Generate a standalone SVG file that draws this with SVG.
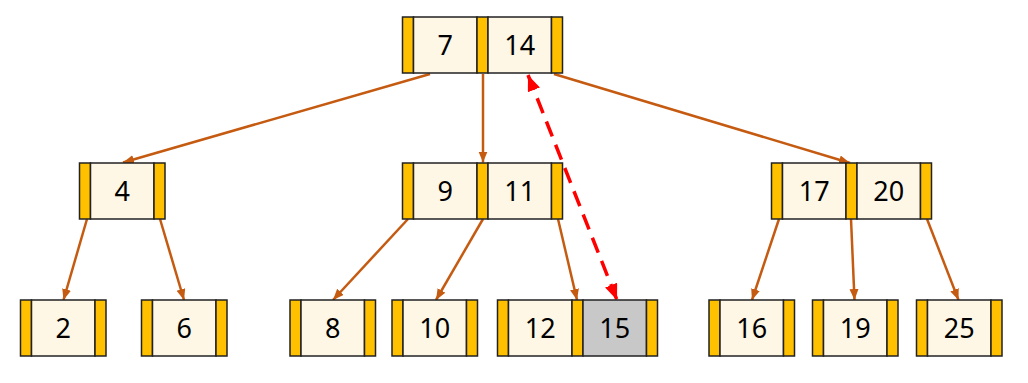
<svg xmlns="http://www.w3.org/2000/svg" width="1028" height="383" viewBox="0 0 1028 383">
<style>
.p{fill:#FFC000;stroke:#222;stroke-width:1.5}
.k{fill:#FFF7E5;stroke:#222;stroke-width:1.5}
.g{fill:#C8C8C8;stroke:#222;stroke-width:1.5}
.t{font-family:"Noto Sans","DejaVu Sans",sans-serif;font-size:27px;fill:#000;text-anchor:middle}
.e{stroke:#C55A11;stroke-width:2.5;fill:none;marker-end:url(#ab)}
.r{stroke:#FF0000;stroke-width:3.5;fill:none;stroke-dasharray:16 9;marker-start:url(#ar);marker-end:url(#ar)}
</style>
<defs>
<marker id="ab" markerUnits="userSpaceOnUse" markerWidth="12" markerHeight="10" refX="11" refY="4.5" orient="auto"><path d="M0,0 L11,4.5 L0,9 z" fill="#C55A11"/></marker>
<marker id="ar" markerUnits="userSpaceOnUse" markerWidth="18" markerHeight="14" refX="16" refY="6.5" orient="auto-start-reverse"><path d="M0,0 L16,6.5 L0,13 z" fill="#FF0000"/></marker>
</defs>
<g id="connectors">
<line class="e" x1="430" y1="74" x2="123" y2="162.5"/>
<line class="e" x1="483" y1="74" x2="483" y2="162.5"/>
<line class="e" x1="554" y1="74" x2="850" y2="163"/>
<line class="e" x1="87" y1="219" x2="63.5" y2="300"/>
<line class="e" x1="160" y1="219" x2="184" y2="300"/>
<line class="e" x1="408" y1="219" x2="333" y2="300"/>
<line class="e" x1="483" y1="219" x2="436" y2="300"/>
<line class="e" x1="558" y1="219" x2="577" y2="300"/>
<line class="e" x1="779" y1="219" x2="752" y2="300"/>
<line class="e" x1="851" y1="219" x2="854.5" y2="300"/>
<line class="e" x1="927" y1="219" x2="958.5" y2="300"/>
<line class="r" x1="528" y1="75" x2="617" y2="300"/>
</g>
<g id="node-root">
<rect class="p" x="402.5" y="17" width="11" height="56"/><rect class="k" x="413.5" y="17" width="63.5" height="56"/><rect class="p" x="477" y="17" width="11" height="56"/><rect class="k" x="488" y="17" width="63.5" height="56"/><rect class="p" x="551.5" y="17" width="11" height="56"/>
<text class="t" x="445.25" y="54.5">7</text><text class="t" x="519.75" y="54.5">14</text>
</g>
<g id="node-4">
<rect class="p" x="79.5" y="163" width="11" height="56"/><rect class="k" x="90.5" y="163" width="63.5" height="56"/><rect class="p" x="154" y="163" width="11" height="56"/>
<text class="t" x="122.25" y="200.5">4</text>
</g>
<g id="node-9-11">
<rect class="p" x="402.5" y="163" width="11" height="56"/><rect class="k" x="413.5" y="163" width="63.5" height="56"/><rect class="p" x="477" y="163" width="11" height="56"/><rect class="k" x="488" y="163" width="63.5" height="56"/><rect class="p" x="551.5" y="163" width="11" height="56"/>
<text class="t" x="445.25" y="200.5">9</text><text class="t" x="519.75" y="200.5">11</text>
</g>
<g id="node-17-20">
<rect class="p" x="771.5" y="163" width="11" height="56"/><rect class="k" x="782.5" y="163" width="63.5" height="56"/><rect class="p" x="846" y="163" width="11" height="56"/><rect class="k" x="857" y="163" width="63.5" height="56"/><rect class="p" x="920.5" y="163" width="11" height="56"/>
<text class="t" x="814.25" y="200.5">17</text><text class="t" x="888.75" y="200.5">20</text>
</g>
<g id="node-2">
<rect class="p" x="20.5" y="300" width="11" height="56"/><rect class="k" x="31.5" y="300" width="63.5" height="56"/><rect class="p" x="95" y="300" width="11" height="56"/>
<text class="t" x="63.25" y="337.5">2</text>
</g>
<g id="node-6">
<rect class="p" x="141.5" y="300" width="11" height="56"/><rect class="k" x="152.5" y="300" width="63.5" height="56"/><rect class="p" x="216" y="300" width="11" height="56"/>
<text class="t" x="184.25" y="337.5">6</text>
</g>
<g id="node-8">
<rect class="p" x="290" y="300" width="11" height="56"/><rect class="k" x="301" y="300" width="63.5" height="56"/><rect class="p" x="364.5" y="300" width="11" height="56"/>
<text class="t" x="332.75" y="337.5">8</text>
</g>
<g id="node-10">
<rect class="p" x="392" y="300" width="11" height="56"/><rect class="k" x="403" y="300" width="63.5" height="56"/><rect class="p" x="466.5" y="300" width="11" height="56"/>
<text class="t" x="434.75" y="337.5">10</text>
</g>
<g id="node-12-15">
<rect class="p" x="497.5" y="300" width="11" height="56"/><rect class="k" x="508.5" y="300" width="63.5" height="56"/><rect class="p" x="572" y="300" width="11" height="56"/><rect class="g" x="583" y="300" width="63.5" height="56"/><rect class="p" x="646.5" y="300" width="11" height="56"/>
<text class="t" x="540.25" y="337.5">12</text><text class="t" x="614.75" y="337.5">15</text>
</g>
<g id="node-16">
<rect class="p" x="709" y="300" width="11" height="56"/><rect class="k" x="720" y="300" width="63.5" height="56"/><rect class="p" x="783.5" y="300" width="11" height="56"/>
<text class="t" x="751.75" y="337.5">16</text>
</g>
<g id="node-19">
<rect class="p" x="812.5" y="300" width="11" height="56"/><rect class="k" x="823.5" y="300" width="63.5" height="56"/><rect class="p" x="887" y="300" width="11" height="56"/>
<text class="t" x="855.25" y="337.5">19</text>
</g>
<g id="node-25">
<rect class="p" x="916.5" y="300" width="11" height="56"/><rect class="k" x="927.5" y="300" width="63.5" height="56"/><rect class="p" x="991" y="300" width="11" height="56"/>
<text class="t" x="959.25" y="337.5">25</text>
</g>
</svg>
